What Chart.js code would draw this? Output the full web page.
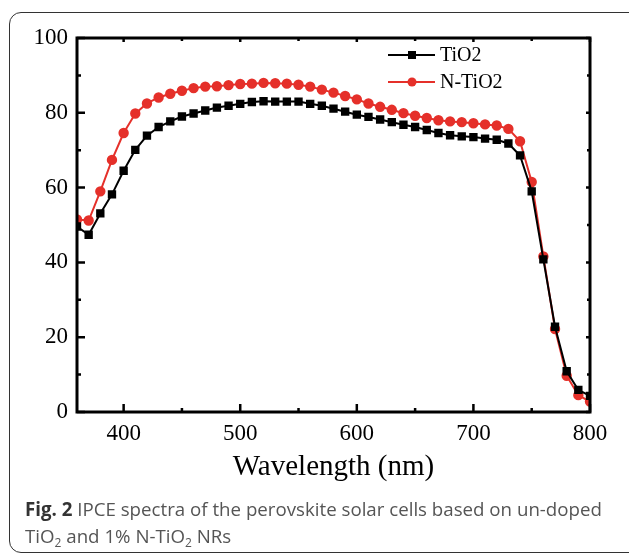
<!DOCTYPE html>
<html>
<head>
<meta charset="utf-8">
<script src="https://cdn.jsdelivr.net/npm/chart.js@4/dist/chart.umd.min.js"></script>
<style>
    html, body { margin: 0; padding: 0; background: #fff; }
    body { width: 629px; height: 554px; position: relative; overflow: hidden; }
    #frame {
        position: absolute; left: 9px; top: 12px; width: 650px; height: 541px;
        border: 1.5px solid #333; border-radius: 12px; box-sizing: border-box;
    }
    #chart { position: absolute; left: 0; top: 0; }
    #caption {
        position: absolute; left: 25px; top: 495px; width: 604px; white-space: nowrap;
        font-family: "Open Sans", sans-serif; font-size: 18.7px; line-height: 27px; color: #555;
    }
    #caption b { color: #333; }
    #caption sub { font-size: 12px; vertical-align: -4px; line-height: 0; }
</style>
</head>
<body>
<div id="frame"></div>
<canvas id="chart" width="629" height="554"></canvas>
<div id="caption"><b>Fig. 2</b> IPCE spectra of the perovskite solar cells based on un-doped<br>TiO<sub>2</sub> and 1% N-TiO<sub>2</sub> NRs</div>
<script>
const wavelengths = [360, 370, 380, 390, 400, 410, 420, 430, 440, 450, 460, 470, 480, 490, 500,
    510, 520, 530, 540, 550, 560, 570, 580, 590, 600, 610, 620, 630, 640, 650,
    660, 670, 680, 690, 700, 710, 720, 730, 740, 750, 760, 770, 780, 790, 800];
const tio2 = [49.6, 47.4, 53.1, 58.2, 64.5, 70.1, 73.9, 76.2, 77.7, 79.0, 79.8, 80.6, 81.4, 81.9, 82.4,
    82.9, 83.1, 83.0, 83.0, 83.0, 82.4, 81.9, 81.1, 80.3, 79.5, 78.9, 78.2, 77.5, 76.8, 76.2,
    75.4, 74.6, 74.0, 73.7, 73.5, 73.1, 72.8, 71.8, 68.6, 59.0, 40.8, 22.8, 10.9, 5.9, 4.3];
const nTio2 = [51.5, 51.2, 59.0, 67.4, 74.6, 79.8, 82.5, 84.1, 85.1, 85.9, 86.6, 87.0, 87.1, 87.4, 87.7,
    87.8, 88.0, 87.9, 87.8, 87.5, 87.0, 86.2, 85.4, 84.5, 83.6, 82.5, 81.6, 80.8, 79.9, 79.2,
    78.6, 78.0, 77.7, 77.5, 77.2, 76.9, 76.6, 75.7, 72.4, 61.5, 41.6, 22.2, 9.7, 4.5, 2.8];
const xTicks = [400, 500, 600, 700, 800];
const xMinor = [450, 550, 650, 750];
const yTicks = [0, 20, 40, 60, 80, 100];
const yMinor = [10, 30, 50, 70, 90];

const serif = "'Liberation Serif', 'Times New Roman', serif";
const red = "#e5302a";

function toPoints(values){
    return wavelengths.map((w, i) => ({x: w, y: values[i]}));
}

// box around the plot, inward ticks on all four sides, and the legend inside
const framePlugin = {
    id: "frame",
    afterDatasetsDraw(chart){
        const ctx = chart.ctx;
        const a = chart.chartArea;
        const xs = chart.scales.x;
        const ys = chart.scales.y;
        ctx.save();
        ctx.strokeStyle = "#000";
        ctx.lineWidth = 3;
        ctx.strokeRect(a.left, a.top, a.right - a.left, a.bottom - a.top);

        ctx.lineWidth = 2.5;
        ctx.beginPath();
        xTicks.forEach(v => {
            const px = xs.getPixelForValue(v);
            ctx.moveTo(px, a.bottom); ctx.lineTo(px, a.bottom - 8);
            ctx.moveTo(px, a.top); ctx.lineTo(px, a.top + 4);
        });
        xMinor.forEach(v => {
            const px = xs.getPixelForValue(v);
            ctx.moveTo(px, a.bottom); ctx.lineTo(px, a.bottom - 4);
            ctx.moveTo(px, a.top); ctx.lineTo(px, a.top + 3);
        });
        yTicks.forEach(v => {
            const py = ys.getPixelForValue(v);
            ctx.moveTo(a.left, py); ctx.lineTo(a.left + 8, py);
            ctx.moveTo(a.right, py); ctx.lineTo(a.right - 4, py);
        });
        yMinor.forEach(v => {
            const py = ys.getPixelForValue(v);
            ctx.moveTo(a.left, py); ctx.lineTo(a.left + 4, py);
            ctx.moveTo(a.right, py); ctx.lineTo(a.right - 3, py);
        });
        ctx.stroke();

        // legend
        const rows = [{y: 55}, {y: 82}];
        chart.data.datasets.forEach((ds, i) => {
            const y = rows[i].y;
            ctx.strokeStyle = ds.borderColor;
            ctx.lineWidth = 2;
            ctx.beginPath();
            ctx.moveTo(388, y); ctx.lineTo(435, y);
            ctx.stroke();
            ctx.fillStyle = ds.pointBackgroundColor;
            if (ds.pointStyle === "rect") {
                ctx.fillRect(408, y - 4, 8, 8);
            } else {
                ctx.beginPath();
                ctx.arc(412, y, 4.5, 0, Math.PI * 2);
                ctx.fill();
            }
            ctx.fillStyle = "#000";
            ctx.font = "20px " + serif;
            ctx.textBaseline = "middle";
            ctx.fillText(ds.label, 440, y + 1);
        });
        ctx.restore();
    }
};

new Chart(document.getElementById("chart"), {
    type: "line",
    data: {
        datasets: [{
            label: "TiO2",
            data: toPoints(tio2),
            borderColor: "#000",
            backgroundColor: "#000",
            pointBackgroundColor: "#000",
            pointBorderColor: "#000",
            pointStyle: "rect",
            pointRadius: 4.5,
            borderWidth: 2,
            fill: false
        },
        {
            label: "N-TiO2",
            data: toPoints(nTio2),
            borderColor: red,
            backgroundColor: red,
            pointBackgroundColor: red,
            pointBorderColor: red,
            pointStyle: "circle",
            pointRadius: 4.2,
            borderWidth: 2,
            fill: false
        }]
    },
    options: {
        responsive: false,
        animation: false,
        layout: {padding: {left: 0, top: 38, right: 39, bottom: 69}},
        plugins: {
            legend: {display: false},
            tooltip: {enabled: false}
        },
        scales: {
            x: {
                type: "linear",
                min: 360,
                max: 800,
                grid: {display: false, drawTicks: false},
                border: {display: false},
                afterBuildTicks(scale){
                    scale.ticks = xTicks.map(v => ({value: v}));
                },
                afterFit(scale){
                    scale.height = 73;
                },
                ticks: {
                    color: "#000",
                    padding: 8,
                    maxRotation: 0,
                    autoSkip: false,
                    font: {family: serif, size: 23}
                },
                title: {
                    display: true,
                    text: "Wavelength (nm)",
                    color: "#000",
                    padding: 0,
                    font: {family: serif, size: 29}
                }
            },
            y: {
                min: 0,
                max: 100,
                grid: {display: false, drawTicks: false},
                border: {display: false},
                afterFit(scale){
                    scale.width = 77;
                },
                ticks: {
                    stepSize: 20,
                    color: "#000",
                    padding: 9,
                    font: {family: serif, size: 23}
                }
            }
        }
    },
    plugins: [framePlugin]
});
</script>
</body>
</html>
